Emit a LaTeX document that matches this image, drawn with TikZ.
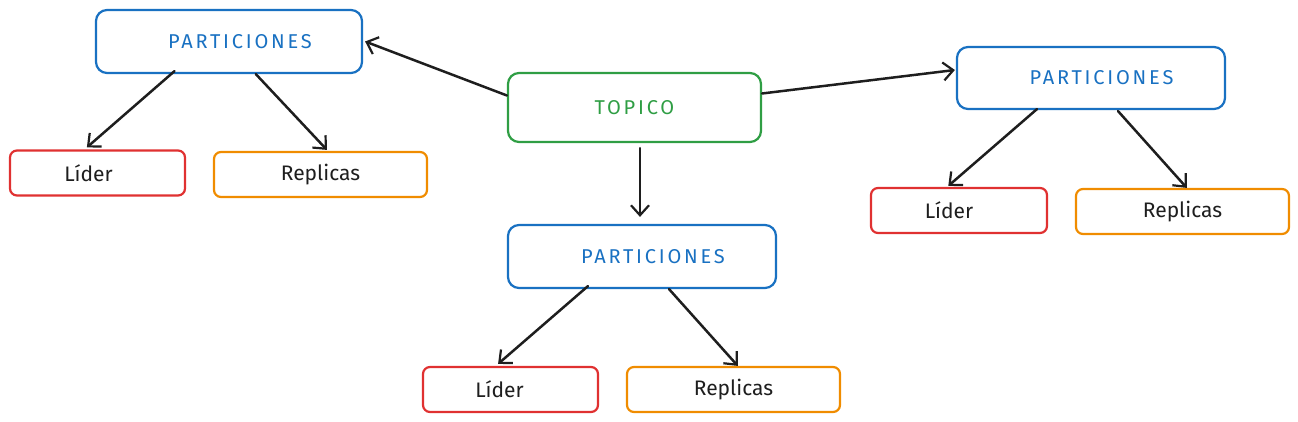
\documentclass[tikz,border=0pt]{standalone}
\usepackage{fontspec}
\setmainfont{Fira Sans}
\newfontfamily\capsfont[LetterSpace=14]{Fira Sans}
\usetikzlibrary{arrows.meta,calc}
\definecolor{exblue}{HTML}{1971C2}
\definecolor{exgreen}{HTML}{2F9E44}
\definecolor{exred}{HTML}{E03131}
\definecolor{exorange}{HTML}{F08C00}
\definecolor{exblack}{HTML}{1E1E1E}
\begin{document}
\begin{tikzpicture}[x=1pt,y=-1pt,
  box/.style={draw, line width=2.2pt, fill=white, inner sep=0pt, font=\fontsize{21}{24}\selectfont},
  bigbox/.style={box, rounded corners=11pt, minimum width=266pt, minimum height=63pt, draw=exblue, text=exblue, font=\fontsize{20}{24}\capsfont},
  topicbox/.style={box, rounded corners=11pt, minimum width=253pt, minimum height=69pt, draw=exgreen, text=exgreen, font=\fontsize{20}{24}\capsfont},
  liderbox/.style={box, rounded corners=7pt, minimum width=175pt, minimum height=45pt, draw=exred, text=exblack},
  repbox/.style={box, rounded corners=7pt, minimum width=213pt, minimum height=45pt, draw=exorange, text=exblack},
  conn/.style={draw=exblack, line width=2.5pt, line cap=round, -{Straight Barb[length=10pt,width=18pt,line width=2.2pt]}}
]
\useasboundingbox (0,0) rectangle (1298,422);

\node[topicbox] (T) at (634.5,107.5) {TOPICO};

\node[bigbox] (P1) at (229,41.5) {\hspace*{22pt}PARTICIONES};
\node[liderbox] (L1) at (97.5,173) {Líder\hspace*{18pt}};
\node[repbox] (R1) at (320.5,174.5) {Replicas};

\node[bigbox, minimum width=268pt, minimum height=62pt] (P2) at (1091,78) {\hspace*{21pt}PARTICIONES};
\node[liderbox, minimum width=176pt] (L2) at (959,210.5) {Líder\hspace*{20pt}};
\node[repbox] (R2) at (1182.5,211.5) {Replicas};

\node[bigbox, minimum width=268pt] (P3) at (642,256.5) {\hspace*{22pt}PARTICIONES};
\node[liderbox] (L3) at (510.5,389.5) {Líder\hspace*{22pt}};
\node[repbox] (R3) at (733.5,389.5) {Replicas};

\draw[conn] ($(T.west)+(0,-12)$) -- ($(P1.east)+(2,0)$);
\draw[conn] ($(T.east)+(0,-14)$) -- ($(P2.west)+(-1,-8)$);
\draw[conn] ($(T.south)+(5.5,5)$) -- ($(P3.north)+(-2,-7)$);

\draw[conn] ($(P1.south west)!0.297!(P1.south east)+(0,-3)$) -- ($(L1.north west)!0.44!(L1.north east)+(0,-2)$);
\draw[conn] ($(P1.south west)!0.60!(P1.south east)$) -- ($(R1.north west)!0.53!(R1.north east)+(0,-1)$);

\draw[conn] ($(P2.south west)!0.30!(P2.south east)+(0,-1)$) -- ($(L2.north west)!0.44!(L2.north east)+(0,-1)$);
\draw[conn] ($(P2.south west)!0.60!(P2.south east)+(0,1)$) -- ($(R2.north west)!0.52!(R2.north east)$);

\draw[conn] ($(P3.south west)!0.30!(P3.south east)+(0,-3)$) -- ($(L3.north west)!0.43!(L3.north east)+(0,-2)$);
\draw[conn] ($(P3.south west)!0.60!(P3.south east)$) -- ($(R3.north west)!0.52!(R3.north east)$);
\end{tikzpicture}
\end{document}
